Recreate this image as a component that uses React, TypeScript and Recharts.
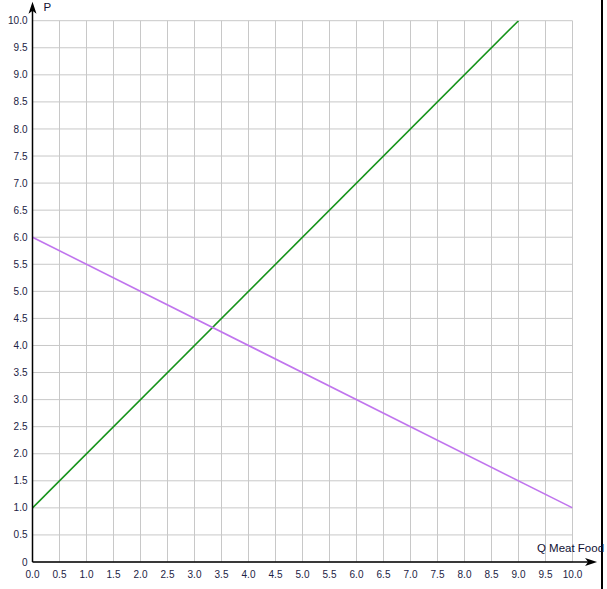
import React from 'react';
import { LineChart, Line, XAxis, YAxis, CartesianGrid, ReferenceLine } from 'recharts';

const xTicks = [0, 0.5, 1, 1.5, 2, 2.5, 3, 3.5, 4, 4.5, 5, 5.5, 6, 6.5, 7, 7.5, 8, 8.5, 9, 9.5, 10];
const yTicks = [0, 0.5, 1, 1.5, 2, 2.5, 3, 3.5, 4, 4.5, 5, 5.5, 6, 6.5, 7, 7.5, 8, 8.5, 9, 9.5, 10];

const supplyData = [
  { q: 0, p: 1 },
  { q: 9, p: 10 },
];
const demandData = [
  { q: 0, p: 6 },
  { q: 10, p: 1 },
];

const xAxisTitle = 'Q Meat Food';
const yAxisTitle = 'P';

const FONT = '"Liberation Sans", Arial, sans-serif';
const TICK_COLOR = '#222244';

const xArrowShape = (props: any) => {
  const { x1, y1, x2, y2 } = props;
  return (
    <g>
      <line x1={x1} y1={y1} x2={x2 - 4} y2={y2} stroke="#000" strokeWidth={1.5} />
      <polygon points={`${x2},${y2} ${x2 - 12},${y2 - 4} ${x2 - 9},${y2} ${x2 - 12},${y2 + 4}`} fill="#000" />
      <text x={x2 + 7} y={y2 - 10} textAnchor="end" fontFamily={FONT} fontSize={11.5} fill="#111133">
        {xAxisTitle}
      </text>
    </g>
  );
};

const yArrowShape = (props: any) => {
  const { x1, y1, x2, y2 } = props;
  return (
    <g>
      <line x1={x1} y1={y1} x2={x2} y2={y2 + 4} stroke="#000" strokeWidth={1.5} />
      <polygon points={`${x2},${y2} ${x2 - 4},${y2 + 12} ${x2},${y2 + 9} ${x2 + 4},${y2 + 12}`} fill="#000" />
      <text x={x2 + 11} y={y2 + 9} textAnchor="start" fontFamily={FONT} fontSize={11.5} fill="#111133">
        {yAxisTitle}
      </text>
    </g>
  );
};

export default function App() {
  return (
    <div
      style={{
        position: 'absolute',
        left: 0,
        top: 0,
        width: 601,
        height: 589,
        borderRight: '2px solid #000',
        background: '#fff',
      }}
    >
      <LineChart
        width={607}
        height={589}
        margin={{ top: 20.7, right: 34.5, bottom: 0, left: 0 }}
        style={{ position: 'absolute', left: 0, top: 0 }}
      >
        <CartesianGrid stroke="#c8c8c8" strokeWidth={1} />
        <XAxis
          type="number"
          dataKey="q"
          domain={[0, 10]}
          ticks={xTicks}
          allowDataOverflow
          height={27}
          axisLine={false}
          tickLine={false}
          tickSize={0}
          tickMargin={9}
          interval={0}
          tickFormatter={(v: number) => v.toFixed(1)}
          tick={{ fontSize: 10, fontFamily: FONT, fill: TICK_COLOR }}
        />
        <YAxis
          type="number"
          dataKey="p"
          domain={[0, 10]}
          ticks={yTicks}
          allowDataOverflow
          width={32.5}
          axisLine={false}
          tickLine={false}
          tickSize={0}
          tickMargin={5}
          interval={0}
          tickFormatter={(v: number) => (v === 0 ? '0' : v.toFixed(1))}
          tick={{ fontSize: 10, fontFamily: FONT, fill: TICK_COLOR }}
        />
        <Line
          data={supplyData}
          dataKey="p"
          stroke="#15931a"
          strokeWidth={1.6}
          dot={false}
          isAnimationActive={false}
          type="linear"
        />
        <Line
          data={demandData}
          dataKey="p"
          stroke="#c075ee"
          strokeWidth={1.6}
          dot={false}
          isAnimationActive={false}
          type="linear"
        />
        <ReferenceLine
          segment={[{ x: 0, y: 0 }, { x: 10.455, y: 0 }]}
          ifOverflow="visible"
          shape={xArrowShape}
        />
        <ReferenceLine
          segment={[{ x: 0, y: 0 }, { x: 0, y: 10.35 }]}
          ifOverflow="visible"
          shape={yArrowShape}
        />
      </LineChart>
    </div>
  );
}
